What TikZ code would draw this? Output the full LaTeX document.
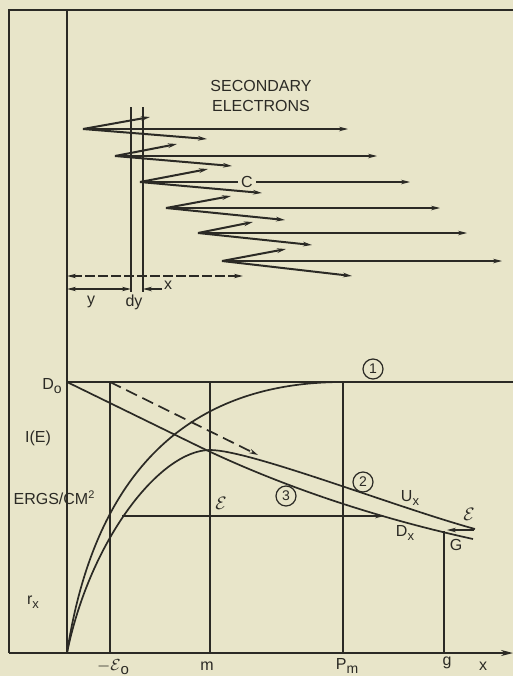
\documentclass[tikz,border=0pt]{standalone}
\usepackage{fontspec}
\setmainfont{Liberation Sans}
\usetikzlibrary{arrows.meta}
\definecolor{paper}{HTML}{E8E5C9}
\definecolor{ink}{HTML}{2B2A25}
\begin{document}
\begin{tikzpicture}[x=0.5pt,y=-0.5pt, line width=0.85pt, draw=ink,
  arr/.style={-{Stealth[length=4.5pt,width=2.3pt]}},
  darr/.style={{Stealth[length=4.5pt,width=2.2pt]}-{Stealth[length=4.5pt,width=2.2pt]}},
  thin line/.style={line width=0.55pt},
  lbl/.style={font=\fontsize{8}{9}\selectfont, inner sep=0pt, text=ink},
  num/.style={circle, draw=ink, line width=0.6pt, inner sep=0pt, minimum size=10pt, font=\fontsize{7}{7}\selectfont, text=ink}]
\fill[paper] (0,0) rectangle (513,676);
\useasboundingbox (0,0) rectangle (513,676);
% frame
\coordinate (TL) at (9,10);
\coordinate (TR) at (513,10);
\coordinate (BL) at (9,653);
\coordinate (AxEnd) at (513,653);
\coordinate (Top67) at (67,10);
\coordinate (O) at (67,653);
\coordinate (D0) at (67,382);
\coordinate (D0R) at (513,382);
\draw (BL) -- (TL) -- (TR);
\draw[-{Stealth[length=6pt,width=3pt]}] (BL) -- (AxEnd);
\draw (Top67) -- (O);
\draw (D0) -- (D0R);
% vertical lines
\coordinate (e0t) at (110,382); \coordinate (e0b) at (110,653);
\coordinate (mt) at (210,382);  \coordinate (mb) at (210,653);
\coordinate (pt) at (343,382);  \coordinate (pb) at (343,653);
\coordinate (gt) at (444,531);  \coordinate (gb) at (444,653);
\draw (e0t) -- (e0b);
\draw (mt) -- (mb);
\draw (pt) -- (pb);
\draw (gt) -- (gb);
% curve 1
\draw (O) .. controls (95,470) and (190,382) .. (pt);
% curve 3 -> U_x
\coordinate (peak) at (210,450);
\coordinate (Uend) at (475,529);
\draw (O) .. controls (90,540) and (160,450) .. (peak)
          .. controls (250,450) and (395,507) .. (Uend);
% D0 line -> D_x
\coordinate (Dbend) at (200,447);
\coordinate (Dend) at (473,539);
\draw (D0) -- (Dbend) .. controls (300,495) and (400,523) .. (Dend);
% dashed line
\coordinate (dashend) at (258,455);
\draw[dashed, dash pattern=on 6pt off 3pt, arr] (e0t) -- (dashend);
% horizontal epsilon arrow
\coordinate (hs) at (122,516);
\coordinate (he) at (384,516);
\draw[thin line, arr] (hs) -- (he);
% small arrow at right
\coordinate (ss) at (474,530);
\coordinate (se) at (447,530);
\draw[thin line, arr] (ss) -- (se);
% labels of lower graph
\node[lbl] (lD0) at (52,386) {D\raisebox{-0.45ex}{\fontsize{7}{7}\selectfont o}};
\node[lbl] (lIE) at (38,438) {I(E)};
\node[lbl] (lerg) at (54,498) {ERGS/CM\raisebox{0.7ex}{\fontsize{5.5}{5.5}\selectfont 2}};
\node[lbl] (lrx) at (33,602) {r\raisebox{-0.45ex}{\fontsize{6.5}{6.5}\selectfont x}};
\node[lbl] (le0) at (113,667) {\fontsize{8.5}{8.5}\selectfont$-\mathcal{E}$\raisebox{-0.5ex}{\fontsize{7.5}{7.5}\selectfont o}};
\node[lbl] (lm) at (207,666) {m};
\node[lbl] (lpm) at (347,666) {P\raisebox{-0.5ex}{\fontsize{7}{7}\selectfont m}};
\node[lbl] (lg) at (447,663) {g};
\node[lbl] (lx) at (483,666) {x};
\node[num] (n1) at (373,369) {1};
\node[num] (n2) at (363,482) {2};
\node[num] (n3) at (286,496) {3};
\node[lbl] (lU) at (410,498) {U\raisebox{-0.45ex}{\fontsize{6.5}{6.5}\selectfont x}};
\node[lbl] (lE1) at (221,503) {\fontsize{9.5}{9.5}\selectfont$\mathcal{E}$};
\node[lbl] (lE2) at (469,514) {\fontsize{9.5}{9.5}\selectfont$\mathcal{E}$};
\node[lbl] (lDx) at (405,533) {D\raisebox{-0.45ex}{\fontsize{6.5}{6.5}\selectfont x}};
\node[lbl] (lG) at (456,545) {G};
% upper part
\node[lbl, align=center] (sec) at (261,96) {SECONDARY\\[1pt]ELECTRONS};
\coordinate (dy1t) at (131,107); \coordinate (dy1b) at (131,292);
\coordinate (dy2t) at (143,107); \coordinate (dy2b) at (143,292);
\draw[thin line] (dy1t) -- (dy1b);
\draw[thin line] (dy2t) -- (dy2b);
\foreach \i/\vx/\vy/\ux/\uy/\hx/\lx/\ly in {
  1/83/129/150/117/348/207/139,
  2/115/156/177/144/377/232/166,
  3/140/182/208/169/410/262/193,
  4/166/208/231/196/440/285/220,
  5/198/233/253/222/467/312/245,
  6/222/261/286/249/502/352/276}{
  \coordinate (v\i) at (\vx,\vy);
  \coordinate (u\i) at (\ux,\uy);
  \coordinate (h\i) at (\hx,\vy);
  \coordinate (w\i) at (\lx,\ly);
  \draw[line width=1pt, arr] (v\i) -- (u\i);
  \draw[line width=1pt, arr] (v\i) -- (w\i);
  \draw[thin line, arr] (v\i) -- (h\i);
}
\node[lbl, fill=paper, inner xsep=1.5pt] (lC) at (247,182) {C};
% dimension arrows
\coordinate (xa) at (67,276); \coordinate (xb) at (243,276);
\draw[thin line, darr, dash pattern=on 5pt off 1.5pt] (xa) -- (xb);
\coordinate (ya) at (67,289); \coordinate (yb) at (131,289);
\draw[thin line, darr] (ya) -- (yb);
\coordinate (dya) at (162,289);
\draw[thin line, arr] (dya) -- (dy2b |- ya);
\node[lbl] (lx2) at (168,285) {x};
\node[lbl] (ly) at (91,302) {y};
\node[lbl] (ldy) at (134,302) {dy};
\end{tikzpicture}
\end{document}
